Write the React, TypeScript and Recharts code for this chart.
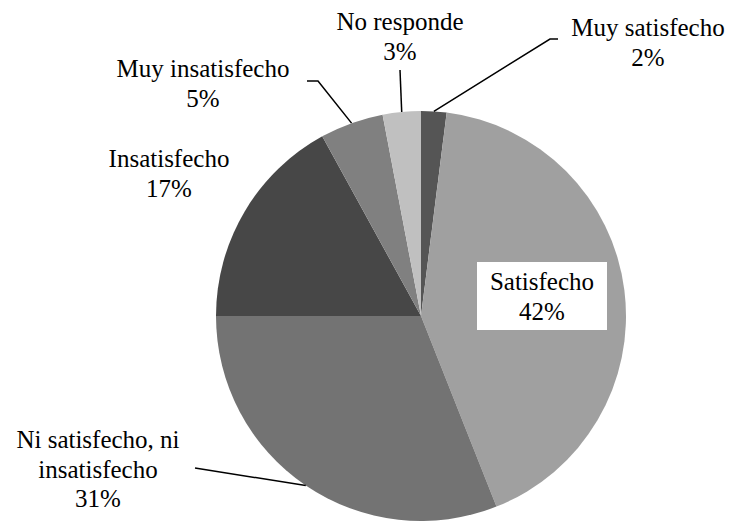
import { PieChart, Pie, Cell } from 'recharts'

const CATEGORIES = [
  'Muy satisfecho',
  'Satisfecho',
  'Ni satisfecho, ni insatisfecho',
  'Insatisfecho',
  'Muy insatisfecho',
  'No responde',
]
const VALUES = [2, 42, 31, 17, 5, 3]

const COLORS = ['#555555', '#a0a0a0', '#737373', '#474747', '#808080', '#c0c0c0']

// label text lines and where Excel put them
const LABEL_LINES = [
  ['Muy satisfecho', '2%'],
  ['Satisfecho', '42%'],
  ['Ni satisfecho, ni', 'insatisfecho', '31%'],
  ['Insatisfecho', '17%'],
  ['Muy insatisfecho', '5%'],
  ['No responde', '3%'],
]

type Layout = { x: number; y: number; line?: number[][]; box?: boolean }
const LABEL_LAYOUT: Layout[] = [
  { x: 648, y: 36, line: [[550, 39], [558, 39]] },
  { x: 542, y: 290, box: true },
  { x: 98, y: 448, line: [[195, 468]] },
  { x: 169, y: 167 },
  { x: 203, y: 77, line: [[318, 81], [307, 81]] },
  { x: 400, y: 30, line: [[400, 70]] },
]

const FONT = 'Liberation Serif'
const LINE_H = 29.5

const chartData = CATEGORIES.map((name, i) => ({ name, value: VALUES[i] }))

const RADIAN = Math.PI / 180

function renderLabel(props: any) {
  const { cx, cy, midAngle, outerRadius, index } = props
  const lay = LABEL_LAYOUT[index]
  const lines = LABEL_LINES[index]
  const ex = cx + outerRadius * Math.cos(-midAngle * RADIAN)
  const ey = cy + outerRadius * Math.sin(-midAngle * RADIAN)
  let path = null
  if (lay.line) {
    const pts = [[ex, ey], ...lay.line]
    path = (
      <polyline
        points={pts.map((p) => p.join(',')).join(' ')}
        fill="none"
        stroke="#000"
        strokeWidth={1.5}
      />
    )
  }
  return (
    <g key={`lbl-${index}`} className="pie-lbl">
      {path}
      {lay.box && <rect x={477} y={262} width={130} height={68} fill="#fff" />}
      <text x={lay.x} y={lay.y} textAnchor="middle" fill="#000">
        {lines.map((t, j) => (
          <tspan key={j} x={lay.x} y={lay.y + j * LINE_H}>
            {t}
          </tspan>
        ))}
      </text>
    </g>
  )
}

export default function App() {
  return (
    <div style={{ position: 'absolute', left: 0, top: 0, background: '#fff' }}>
      <style>{`.pie-lbl text, .pie-lbl tspan { font-family: "${FONT}", "DejaVu Serif", serif !important; font-size: 25px !important; }`}</style>
      <PieChart width={733} height={523} margin={{ top: 0, right: 0, bottom: 0, left: 0 }}>
        <Pie
          data={chartData}
          dataKey="value"
          nameKey="name"
          cx={421}
          cy={316}
          outerRadius={205}
          startAngle={90}
          endAngle={-270}
          stroke="none"
          label={renderLabel}
          labelLine={false}
          isAnimationActive={false}
        >
          {chartData.map((entry, index) => (
            <Cell key={`cell-${index}`} fill={COLORS[index]} />
          ))}
        </Pie>
      </PieChart>
    </div>
  )
}
